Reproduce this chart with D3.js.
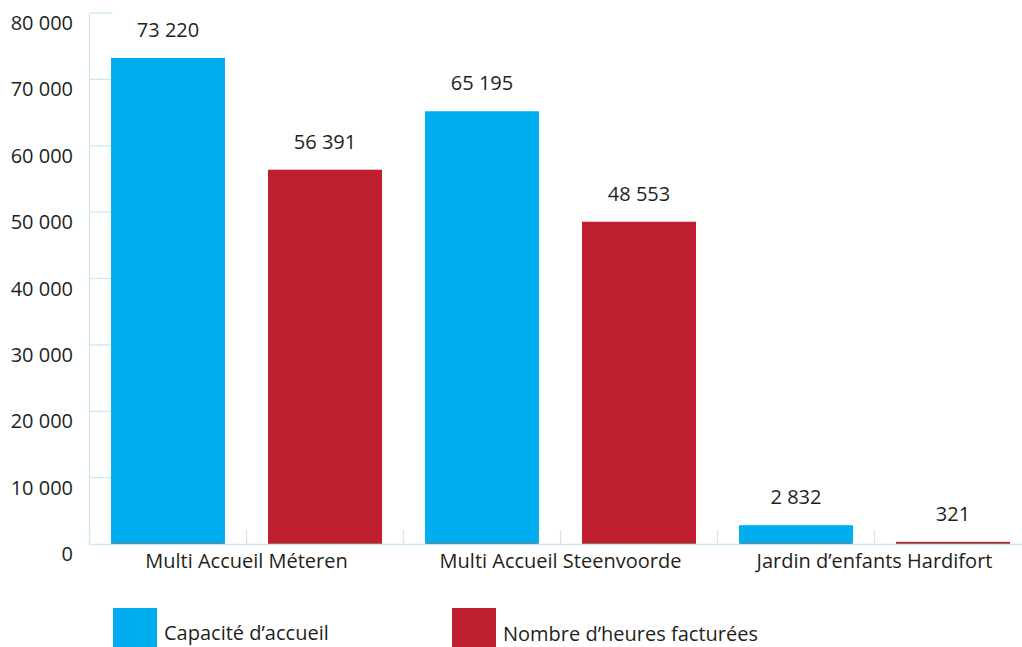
<!DOCTYPE html>
<html>
<head>
<meta charset="utf-8">
<script src="https://cdn.jsdelivr.net/npm/d3@7"></script>
<style>
  html, body { margin: 0; padding: 0; background: #ffffff; }
  svg { display: block; font-family: "Open Sans", sans-serif; }
</style>
</head>
<body>
<svg id="chart" width="1022" height="647"></svg>
<script>
const categories = ["Multi Accueil Méteren", "Multi Accueil Steenvoorde", "Jardin d’enfants Hardifort"];
const seriesNames = ["Capacité d’accueil", "Nombre d’heures facturées"];
const capacite = [73220, 65195, 2832];
const heures = [56391, 48553, 321];
const yTicks = [0, 10000, 20000, 30000, 40000, 50000, 60000, 70000, 80000];
const colors = ["#00aeef", "#be1e2d"];

const fmt = v => d3.format(",")(v).replace(/,/g, " ");
const svg = d3.select("#chart");
const textColor = "#231f20";
const axisColor = "#cde7f3";

const x0 = 89.5, y0 = 544, yTop = 13;
const groupStep = 314;
const x = d3.scaleBand().domain(categories).range([x0, x0 + groupStep * categories.length]).padding(0);
const xs = d3.scaleBand().domain(seriesNames).range([0, x.bandwidth()]).paddingInner(0.274).paddingOuter(0.137);
const y = d3.scaleLinear().domain([0, 80000]).range([y0, yTop]);

// y grid ticks (short) and axis line
svg.append("g").selectAll("line").data(yTicks.filter(d => d > 0)).join("line")
  .attr("x1", x0).attr("x2", x0 + 23)
  .attr("y1", d => y(d)).attr("y2", d => y(d))
  .attr("stroke", axisColor).attr("stroke-width", 1.3);
svg.append("line").attr("x1", x0).attr("x2", x0).attr("y1", y(80000)).attr("y2", y0 + 1)
  .attr("stroke", axisColor).attr("stroke-width", 1.3);

// y tick labels
svg.append("g").selectAll("text").data(yTicks).join("text")
  .attr("x", 73).attr("y", d => y(d) + 17)
  .attr("text-anchor", "end")
  .attr("font-size", 20).attr("font-weight", 500)
  .attr("fill", textColor)
  .text(d => fmt(d));

// x vertical ticks at half-steps
const halfTicks = d3.range(0, categories.length * 2).map(i => x0 + i * groupStep / 2);
svg.append("g").selectAll("line").data(halfTicks).join("line")
  .attr("x1", d => d).attr("x2", d => d)
  .attr("y1", y0 - 14).attr("y2", y0)
  .attr("stroke", axisColor).attr("stroke-width", 1.3);

const data = categories.map((c, i) => ({ cat: c, vals: [capacite[i], heures[i]] }));

const groups = svg.append("g").selectAll("g").data(data).join("g")
  .attr("transform", d => `translate(${x(d.cat)},0)`);

groups.selectAll("rect").data(d => d.vals.map((v, j) => ({ s: seriesNames[j], v, j }))).join("rect")
  .attr("x", d => xs(d.s)).attr("width", xs.bandwidth())
  .attr("y", d => y(d.v)).attr("height", d => y0 - y(d.v))
  .attr("fill", d => colors[d.j]);

// thin dark segment at bar bottoms
groups.selectAll("line.base").data(d => d.vals.map((v, j) => ({ s: seriesNames[j], v, j }))).join("line")
  .attr("class", "base")
  .attr("x1", d => xs(d.s) + 2).attr("x2", d => xs(d.s) + xs.bandwidth() - 2)
  .attr("y1", y0 - 0.5).attr("y2", y0 - 0.5)
  .attr("stroke", "#6b5038").attr("stroke-width", 1).attr("opacity", 0.8);

groups.selectAll("text").data(d => d.vals.map((v, j) => ({ s: seriesNames[j], v, j }))).join("text")
  .attr("x", d => xs(d.s) + xs.bandwidth() / 2)
  .attr("y", d => y(d.v) - 21)
  .attr("text-anchor", "middle")
  .attr("font-size", 20).attr("fill", textColor)
  .text(d => fmt(d.v));

// x axis line
svg.append("line").attr("x1", x0).attr("x2", 1022).attr("y1", y0 + 0.5).attr("y2", y0 + 0.5)
  .attr("stroke", axisColor).attr("stroke-width", 1.5);

// category labels
svg.append("g").selectAll("text").data(categories).join("text")
  .attr("x", d => x(d) + x.bandwidth() / 2)
  .attr("y", 568)
  .attr("text-anchor", "middle")
  .attr("font-size", 20).attr("fill", textColor)
  .text(d => d);

// legend
const legendX = [113, 452];
const legendTextY = [640, 641];
const leg = svg.append("g").selectAll("g").data(seriesNames).join("g");
leg.append("rect")
  .attr("x", (d, i) => legendX[i]).attr("y", 608)
  .attr("width", 44).attr("height", 40)
  .attr("fill", (d, i) => colors[i]);
leg.append("text")
  .attr("x", (d, i) => legendX[i] + 51).attr("y", (d, i) => legendTextY[i])
  .attr("font-size", 20).attr("fill", textColor)
  .text(d => d);
</script>
</body>
</html>
